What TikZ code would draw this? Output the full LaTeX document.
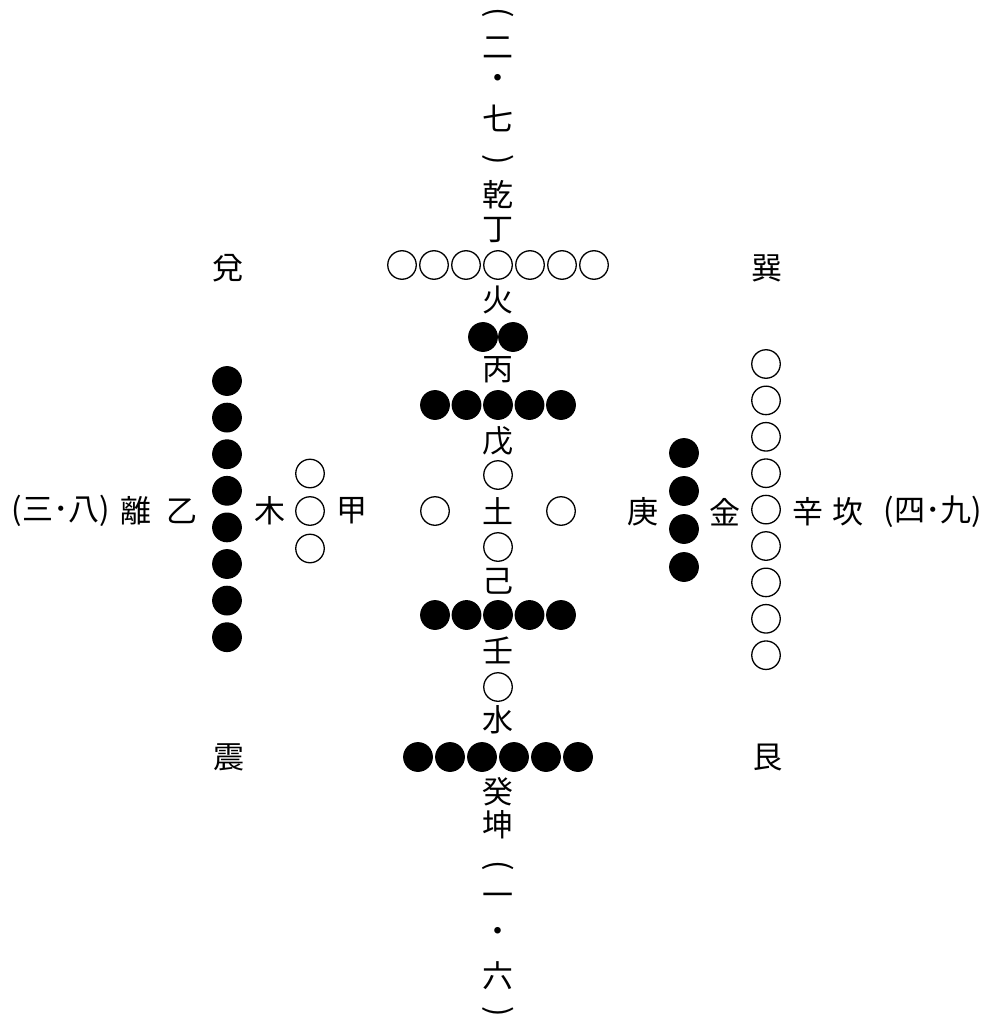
\documentclass[tikz,border=0pt]{standalone}
\usepackage{fontspec}
\newfontfamily\cjk{Noto Sans CJK JP}
\newcommand\hengkuo[1]{\rotatebox[origin=c]{-90}{#1}}
\tikzset{
  zi/.style={font=\cjk\fontsize{31}{31}\selectfont, inner sep=0pt},
  yang/.style={circle, draw=black, line width=1.3pt, minimum size=28.5pt, inner sep=0pt},
  yin/.style={yang, fill=black},
}
\begin{document}
\begin{tikzpicture}[x=1pt,y=-1pt]
  \useasboundingbox (0,0) rectangle (1000,1024);
  % top column
  \node[zi] (tl) at (498,15) {\hengkuo{(}};
  \node[zi] (er) at (498,48) {二};
  \node[zi] (td) at (498,82) {・};
  \node[zi] (qi) at (498,118) {七};
  \node[zi] (tr) at (498,162) {\hengkuo{)}};
  \node[zi] (qian) at (498,195) {乾};
  \node[zi] (ding) at (498,230) {丁};
  \foreach \i in {0,...,6} \node[yang] (qi\i) at (402+32*\i,265) {};
  \node[zi] (huo) at (498,300) {火};
  \foreach \i in {0,1} \node[yin] (er\i) at (483+30*\i,337) {};
  \node[zi] (bing) at (498,370) {丙};
  \foreach \i in {0,...,4} \node[yin] (wua\i) at (435+31.5*\i,405) {};
  \node[zi] (wu) at (498,441) {戊};
  \node[yang] (tua) at (498,475) {};
  \node[zi] (tu) at (498,511) {土};
  \node[yang] (tub) at (435,511) {};
  \node[yang] (tuc) at (561,511) {};
  \node[yang] (tud) at (498,547) {};
  \node[zi] (ji) at (498,581) {己};
  \foreach \i in {0,...,4} \node[yin] (wub\i) at (435+31.5*\i,615) {};
  \node[zi] (ren) at (498,650) {壬};
  \node[yang] (yi) at (498,687) {};
  \node[zi] (shui) at (498,720) {水};
  \foreach \i in {0,...,5} \node[yin] (liu\i) at (418+32*\i,757) {};
  \node[zi] (gui) at (498,792) {癸};
  \node[zi] (kun) at (498,825) {坤};
  % bottom column
  \node[zi] (bl) at (498,868) {\hengkuo{(}};
  \node[zi] (yib) at (498,900) {一};
  \node[zi] (bd) at (498,935) {・};
  \node[zi] (liu) at (498,976) {六};
  \node[zi] (br) at (498,1014) {\hengkuo{)}};
  % corners
  \node[zi] (dui) at (228,268) {兌};
  \node[zi] (xun) at (767,268) {巽};
  \node[zi] (zhen) at (229,757) {震};
  \node[zi] (gen) at (768,757) {艮};
  % left
  \node[zi] (sanba) at (61,511) {(三･八)};
  \node[zi] (li) at (136,511) {離};
  \node[zi] (yiz) at (182,511) {乙};
  \foreach \i in {0,...,7} \node[yin] (ba\i) at (227,381+36.6*\i) {};
  \node[zi] (mu) at (270,511) {木};
  \foreach \i in {0,1,2} \node[yang] (san\i) at (310,473.5+37.5*\i) {};
  \node[zi] (jia) at (352,511) {甲};
  % right
  \node[zi] (geng) at (643,512) {庚};
  \foreach \i in {0,...,3} \node[yin] (si\i) at (684,453+38*\i) {};
  \node[zi] (jin) at (725,512) {金};
  \foreach \i in {0,...,8} \node[yang] (jiu\i) at (766,364+36.4*\i) {};
  \node[zi] (xin) at (808,512) {辛};
  \node[zi] (kan) at (848,512) {坎};
  \node[zi] (sijiu) at (933,512) {(四･九)};
\end{tikzpicture}
\end{document}
